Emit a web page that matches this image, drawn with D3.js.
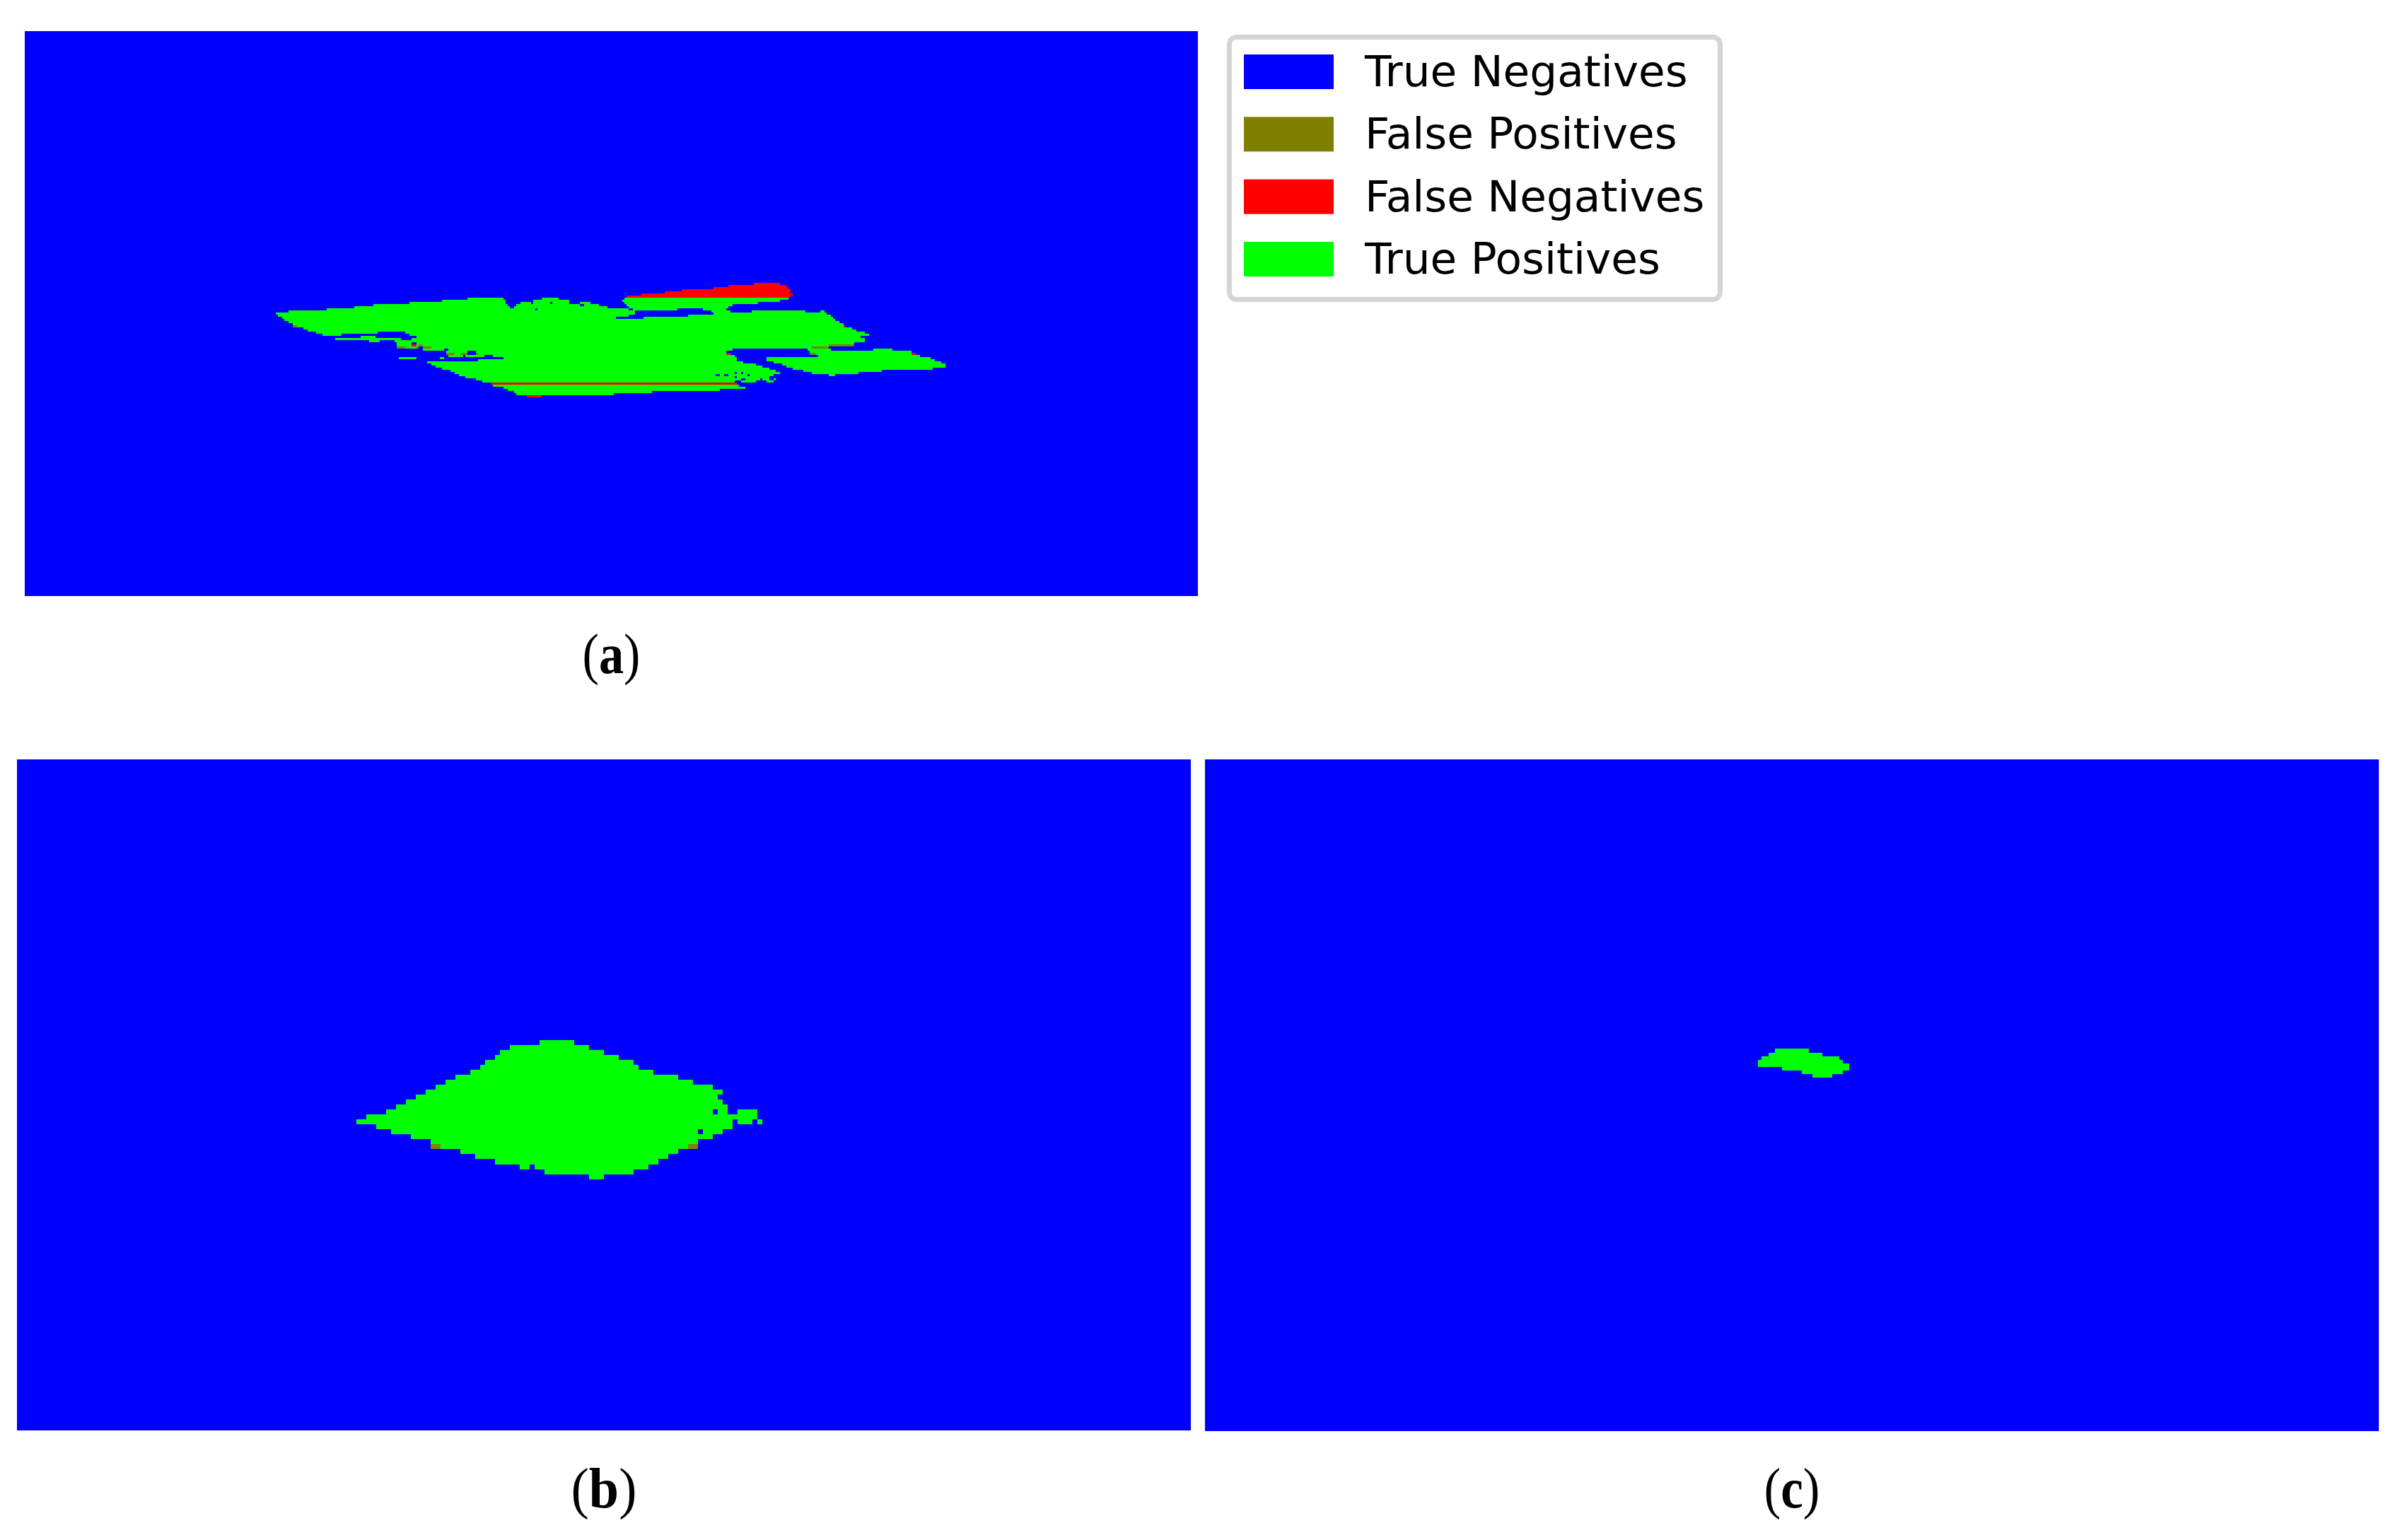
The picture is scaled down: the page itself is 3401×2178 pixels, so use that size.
<!DOCTYPE html>
<html lang="en">
  <head>
    <meta charset="UTF-8" />
    <title>Segmentation masks</title>
    <script src="https://cdnjs.cloudflare.com/ajax/libs/d3/7.8.5/d3.min.js"></script>
    <style>
      body,
      html {
        margin: 0;
        padding: 0;
        background: #fff;
      }
      svg {
        display: block;
      }
      .legend-label {
        font-family: "DejaVu Sans", sans-serif;
        font-size: 61.3px;
        fill: #000;
      }
      .caption {
        font-family: "Liberation Serif", serif;
        font-size: 80px;
        fill: #000;
        text-anchor: middle;
      }
      .caption tspan {
        font-weight: bold;
      }
    </style>
  </head>
  <body>
    <svg id="chart" width="3401" height="2178"></svg>
    <script type="text/javascript">
      const legendLabels = ["True Negatives", "False Positives", "False Negatives", "True Positives"];
      const legendColors = ["#0000ff", "#808000", "#ff0000", "#00ff00"];

      // mask runs are [row, fromCol, toCol], counted from the mask corner
      const panelATruePositives = [
        [7, 92, 109], [7, 127, 135], [7, 166, 243],
        [8, 80, 110], [8, 123, 140], [8, 165, 239],
        [9, 65, 110], [9, 117, 122], [9, 123, 131], [9, 132, 140], [9, 145, 150], [9, 166, 229],
        [10, 48, 111], [10, 115, 145], [10, 147, 154], [10, 167, 217],
        [11, 39, 112], [11, 114, 158], [11, 168, 215],
        [12, 26, 124], [12, 125, 168], [12, 170, 191], [12, 203, 214],
        [13, 8, 171], [13, 207, 216], [13, 226, 251], [13, 258, 260],
        [14, 2, 171], [14, 208, 261],
        [15, 3, 168], [15, 196, 263],
        [16, 5, 162], [16, 175, 264],
        [17, 6, 265],
        [18, 8, 267],
        [19, 10, 269],
        [20, 12, 269],
        [21, 15, 273],
        [22, 17, 275],
        [23, 21, 50], [23, 63, 279],
        [24, 24, 33], [24, 65, 281],
        [25, 42, 49], [25, 68, 277],
        [26, 30, 61], [26, 66, 279],
        [27, 46, 51], [27, 58, 279],
        [28, 59, 66], [28, 68, 274],
        [29, 59, 66], [29, 68, 69], [29, 71, 262],
        [30, 63, 68], [30, 75, 254],
        [31, 71, 81], [31, 83, 217], [31, 252, 263], [31, 283, 292],
        [32, 82, 92], [32, 96, 214], [32, 253, 301],
        [33, 86, 89], [33, 97, 214], [33, 256, 301],
        [34, 83, 90], [34, 91, 100], [34, 104, 218], [34, 257, 305],
        [35, 60, 68], [35, 79, 81], [35, 109, 219], [35, 233, 310],
        [36, 97, 219], [36, 233, 312],
        [37, 73, 222], [37, 236, 315],
        [38, 75, 228], [38, 240, 317],
        [39, 77, 231], [39, 242, 317],
        [40, 80, 234], [40, 245, 311],
        [41, 84, 237], [41, 250, 287],
        [42, 86, 218], [42, 219, 221], [42, 222, 239], [42, 254, 276],
        [43, 88, 209], [43, 211, 213], [43, 215, 224], [43, 225, 236], [43, 262, 265],
        [44, 91, 218], [44, 219, 234],
        [45, 96, 221], [45, 223, 230], [45, 231, 234], [45, 236, 237],
        [46, 99, 218], [46, 221, 228], [46, 233, 236],
        [48, 104, 220],
        [49, 109, 223],
        [50, 111, 211],
        [51, 114, 179],
        [52, 115, 161],
      ];
      const panelAFalsePositives = [
        [20, 10, 12], [29, 69, 71], [29, 262, 274], [30, 59, 63], [30, 68, 69], [30, 71, 75],
        [30, 254, 262], [33, 82, 86], [33, 89, 92], [33, 96, 97], [33, 253, 256],
      ];
      const panelAFalseNegatives = [
        [0, 227, 239], [1, 215, 242], [2, 208, 243], [3, 193, 244], [4, 185, 244], [5, 174, 245],
        [6, 167, 244], [20, 269, 270], [29, 66, 68], [33, 214, 216], [33, 301, 303], [47, 103, 219],
        [53, 120, 127],
      ];

      const panelBTruePositives = [
        [0, 37, 44], [1, 31, 47], [2, 29, 50], [3, 28, 53], [4, 26, 56], [5, 25, 57], [6, 23, 60],
        [7, 20, 65], [8, 18, 68], [9, 16, 72], [10, 14, 74], [11, 12, 73], [12, 10, 74], [13, 8, 75],
        [14, 6, 72], [14, 73, 75], [14, 77, 81],
        [15, 2, 81],
        [16, 0, 76], [16, 77, 80], [16, 81, 82],
        [17, 4, 76],
        [18, 7, 69], [18, 70, 74],
        [19, 11, 72], [20, 15, 69], [21, 17, 67], [22, 21, 65], [23, 24, 63], [24, 28, 61],
        [25, 33, 35], [25, 36, 59],
        [26, 38, 56], [27, 47, 50],
      ];
      const panelBFalsePositives = [[21, 15, 17], [21, 67, 69]];

      const panelCTruePositives = [
        [0, 5, 15], [1, 3, 19], [2, 1, 24], [3, 0, 25], [4, 0, 27], [5, 7, 27], [6, 13, 25], [7, 16, 22],
      ];

      const panels = [
        {
          caption: "a",
          box: { x0: 35, x1: 1694, y0: 45, y1: 843 },
          cols: [-116.13, 435.76],
          rows: [-117.98, 147.5],
          baseline: 952,
          captionWidth: 82,
          layers: [
            [panelATruePositives, "#00ff00"],
            [panelAFalsePositives, "#808000"],
            [panelAFalseNegatives, "#ff0000"],
          ],
        },
        {
          caption: "b",
          box: { x0: 24, x1: 1684, y0: 1074, y1: 2023 },
          cols: [-68.64, 168.5],
          rows: [-56.55, 78.63],
          baseline: 2132,
          captionWidth: 93,
          layers: [
            [panelBTruePositives, "#00ff00"],
            [panelBFalsePositives, "#808000"],
          ],
        },
        {
          caption: "c",
          box: { x0: 1704, x1: 3364, y0: 1074, y1: 2024 },
          cols: [-164, 184],
          rows: [-80.6, 106.4],
          baseline: 2132,
          captionWidth: 79,
          layers: [[panelCTruePositives, "#00ff00"]],
        },
      ];

      const svg = d3.select("#chart");

      panels.forEach((p) => {
        const x = d3.scaleLinear().domain(p.cols).range([p.box.x0, p.box.x1]);
        const y = d3.scaleLinear().domain(p.rows).range([p.box.y0, p.box.y1]);
        const g = svg.append("g").attr("shape-rendering", "crispEdges");

        g.append("rect")
          .attr("x", p.box.x0)
          .attr("y", p.box.y0)
          .attr("width", p.box.x1 - p.box.x0)
          .attr("height", p.box.y1 - p.box.y0)
          .attr("fill", legendColors[0]);

        p.layers.forEach(([runs, color]) => {
          g.append("g")
            .attr("fill", color)
            .selectAll("rect")
            .data(runs)
            .join("rect")
            .attr("x", (d) => x(d[1]))
            .attr("y", (d) => y(d[0]))
            .attr("width", (d) => x(d[2]) - x(d[1]))
            .attr("height", (d) => y(d[0] + 1) - y(d[0]));
        });

        const cap = svg.append("text").attr("class", "caption");
        cap.append("tspan").style("font-weight", "normal").text("(");
        cap.append("tspan").text(p.caption);
        cap.append("tspan").style("font-weight", "normal").text(")");
        // original caption font is narrower than Liberation Serif, squeeze it a bit
        const squeeze = p.captionWidth / cap.node().getComputedTextLength();
        cap.attr(
          "transform",
          `translate(${(p.box.x0 + p.box.x1) / 2},${p.baseline}) scale(${squeeze},1)`
        );
      });

      // thin dark edge on top of panel a
      svg
        .append("rect")
        .attr("x", 35)
        .attr("y", 44)
        .attr("width", 1659)
        .attr("height", 1)
        .attr("fill", "#1a1a4d");

      // Legend
      const legendY = d3.scalePoint().domain(legendLabels).range([77, 342]);
      const legend = svg.append("g");
      legend
        .append("rect")
        .attr("x", 1738.5)
        .attr("y", 52.5)
        .attr("width", 694)
        .attr("height", 371)
        .attr("rx", 10)
        .attr("fill", "#fff")
        .attr("stroke", "#d5d5d5")
        .attr("stroke-width", 7);
      legend
        .selectAll("rect.swatch")
        .data(legendLabels)
        .join("rect")
        .attr("class", "swatch")
        .attr("x", 1759)
        .attr("y", (d) => legendY(d))
        .attr("width", 127)
        .attr("height", 49)
        .attr("fill", (d, i) => legendColors[i]);
      legend
        .selectAll("text")
        .data(legendLabels)
        .join("text")
        .attr("class", "legend-label")
        .attr("x", 1930)
        .attr("y", (d) => legendY(d) + 45)
        .text((d) => d);
    </script>
  </body>
</html>
